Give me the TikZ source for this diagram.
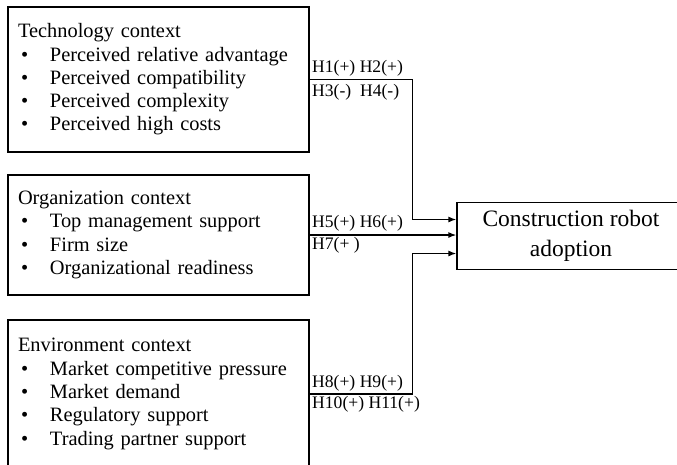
\documentclass[tikz,border=0pt]{standalone}
\usepackage{fontspec}
\setmainfont{Liberation Serif}
\usetikzlibrary{arrows.meta}
\newcommand\bitem[1]{\hspace*{3pt}\makebox[29pt][l]{\textbullet}#1}
\begin{document}
\begin{tikzpicture}[x=1pt,y=-1pt,
  ctx/.style={draw,line width=1.3pt,inner xsep=10pt,inner ysep=0pt,text width=281pt,align=left,
    font=\fontsize{20.4}{23.3}\selectfont,minimum width=301pt},
  tgt/.style={draw,line width=1.3pt,align=center,minimum width=228pt,minimum height=67pt,
    font=\fontsize{23.5}{30}\selectfont},
  lab/.style={anchor=west,inner sep=0pt,font=\fontsize{17.6}{20}\selectfont},
  conn/.style={line width=1.3pt,-{Latex[length=8pt,width=6pt]}}]
\useasboundingbox (0,0) rectangle (677,464);
\clip (0,0) rectangle (677,464);
\node[ctx,minimum height=145pt] (tech) at (158.5,79.5) {Technology context\\
  \bitem{Perceived relative advantage}\\
  \bitem{Perceived compatibility}\\
  \bitem{Perceived complexity}\\
  \bitem{Perceived high costs}};
\node[ctx,minimum height=120pt] (org) at (158.5,235) {Organization context\\
  \bitem{Top management support}\\
  \bitem{Firm size}\\
  \bitem{Organizational readiness}};
\node[ctx,minimum height=148pt] (env) at (158.5,394) {Environment context\\
  \bitem{Market competitive pressure}\\
  \bitem{Market demand}\\
  \bitem{Regulatory support}\\
  \bitem{Trading partner support}};
\node[tgt] (target) at (571,236) {Construction robot\\adoption};
\draw[conn] (tech.east) -- ++(103,0) |- ([yshift=16.5pt]target.west);
\draw[conn] (org.east) -- (org.east -| target.west);
\draw[conn] (env.east) -- ++(103,0) |- ([yshift=-17.5pt]target.west);
\node[lab] (l1) at (312,68) {H1(+) H2(+)};
\node[lab] (l2) at (312,92) {H3(-)\ \ H4(-)};
\node[lab] (l3) at (312,223) {H5(+) H6(+)};
\node[lab] (l4) at (312,245) {H7(+ )};
\node[lab] (l5) at (312,383) {H8(+) H9(+)};
\node[lab] (l6) at (312,404) {H10(+) H11(+)};
\end{tikzpicture}
\end{document}
